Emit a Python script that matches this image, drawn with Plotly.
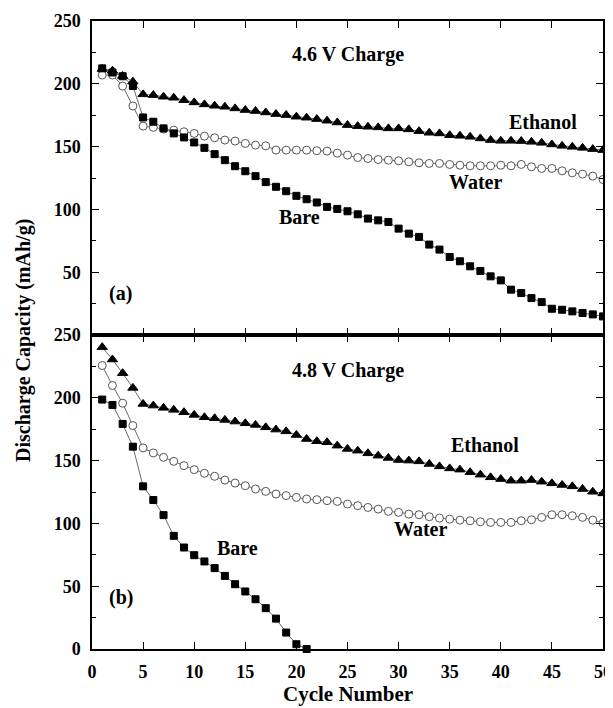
import plotly.graph_objects as go

cycles = list(range(1, 51))

# (a) 4.6 V charge
bare_46 = [212.3, 209, 206, 198.2, 173.2, 169.8, 164.5, 160.5, 157.3, 153.3,
           149.0, 144.0, 139.2, 134.4, 130.4, 126.5, 121.7, 118.0, 114.5, 110.8,
           108.1, 105.5, 102.0, 100.4, 98.5, 96.1, 92.7, 91.3, 90.0, 84.7,
           80.7, 78.1, 72.0, 68.0, 62.1, 58.7, 54.7, 51.0, 46.7, 43.5,
           36.1, 33.4, 29.4, 26.2, 20.9, 20.1, 18.8, 17.5, 16.4, 14.8]
ethanol_46 = [211.8, 210.4, 206.2, 201.7, 191.6, 191.0, 189.7, 188.9, 187.0, 185.2,
              183.6, 182.5, 181.7, 180.4, 179.1, 178.3, 177.2, 175.9, 175.1, 173.8,
              173.0, 171.9, 170.6, 169.2, 167.1, 166.3, 165.8, 165.3, 164.5, 164.5,
              163.7, 162.3, 161.0, 160.5, 159.1, 158.6, 157.8, 156.5, 155.2, 154.6,
              154.6, 154.4, 153.8, 153.0, 151.7, 150.6, 149.8, 149.0, 148.0, 147.2]
water_46 = [207.0, 207.0, 198.2, 182.3, 166.3, 165.3, 164.0, 163.1, 161.8, 160.5,
            158.3, 157.0, 155.2, 154.4, 152.5, 151.2, 150.6, 147.2, 147.2, 147.2,
            147.2, 146.7, 146.4, 144.8, 143.2, 141.3, 140.5, 139.7, 139.2, 138.7,
            137.9, 137.1, 136.6, 136.6, 135.8, 135.2, 134.7, 134.7, 134.7, 135.2,
            134.7, 135.8, 133.9, 132.6, 132.6, 130.7, 129.1, 128.1, 126.5, 123.8]

# (b) 4.8 V charge
cycles_bare_48 = list(range(1, 22))
bare_48 = [198.6, 194.3, 179.2, 161.1, 129.5, 118.6, 106.6, 90.1, 80.8, 74.7,
           69.7, 64.4, 58.2, 51.6, 45.8, 39.6, 32.5, 24.2, 13.1, 3.8, 0.0]
ethanol_48 = [240.3, 230.5, 219.6, 207.9, 195.1, 193.8, 192.0, 190.4, 188.5, 186.4,
              184.5, 183.7, 182.4, 181.1, 179.7, 178.4, 176.5, 174.7, 173.3, 170.4,
              167.2, 165.4, 164.6, 161.9, 159.3, 157.9, 155.8, 153.9, 152.1, 150.5,
              150.0, 149.4, 147.3, 145.4, 143.8, 142.8, 140.7, 138.8, 136.7, 135.3,
              134.0, 134.0, 134.5, 133.2, 131.9, 130.6, 129.5, 127.4, 125.2, 123.9]
water_48 = [225.7, 209.8, 195.7, 177.9, 160.1, 156.1, 152.6, 149.4, 146.0, 142.8,
            139.9, 137.5, 134.5, 132.1, 130.0, 127.4, 125.5, 123.4, 122.1, 120.7,
            119.4, 118.9, 118.1, 117.5, 115.4, 114.1, 112.7, 111.4, 109.6, 108.8,
            107.4, 106.9, 105.3, 104.2, 103.4, 102.6, 102.1, 101.3, 100.8, 100.8,
            100.8, 102.1, 102.9, 104.8, 106.9, 106.9, 106.1, 104.8, 102.6, 100.2]

x_ticks = [0, 5, 10, 15, 20, 25, 30, 35, 40, 45, 50]
y_ticks_top = [50, 100, 150, 200, 250]
y_ticks_bottom = [0, 50, 100, 150, 200, 250]

FONT = "Liberation Serif"
LINE = dict(color="#444", width=0.8)

# page has an 8px body margin, so the figure is sized/offset to compensate
W, H = 605, 708
ML, MR, MT, MB = 84, 10, 13, 67
PW, PH = W - ML - MR, H - MT - MB

fig = go.Figure()

def add_series(x, y, xa, ya, symbol, fill, edge, size):
    fig.add_trace(go.Scatter(
        x=x, y=y, xaxis=xa, yaxis=ya, mode="lines+markers",
        line=LINE,
        marker=dict(symbol=symbol, size=size, color=fill,
                    line=dict(color=edge, width=1)),
        showlegend=False, cliponaxis=False))

# top panel
add_series(cycles, water_46, "x", "y", "circle", "white", "#555", 8)
add_series(cycles, ethanol_46, "x", "y", "triangle-up", "black", "black", 9)
add_series(cycles, bare_46, "x", "y", "square", "black", "black", 7)
# bottom panel
add_series(cycles, water_48, "x2", "y2", "circle", "white", "#555", 8)
add_series(cycles, ethanol_48, "x2", "y2", "triangle-up", "black", "black", 9)
add_series(cycles_bare_48, bare_48, "x2", "y2", "square", "black", "black", 7)

axis_common = dict(
    showline=True, linecolor="black", linewidth=1.5, mirror="allticks",
    ticks="inside", ticklen=7, tickwidth=1.2, tickcolor="black",
    showgrid=False, zeroline=False, automargin=False,
    tickfont=dict(family=FONT, size=18, color="black", weight="bold"),
)

fig.update_layout(
    width=W, height=H,
    margin=dict(l=ML, r=MR, t=MT, b=MB),
    paper_bgcolor="white", plot_bgcolor="white",
    xaxis=dict(domain=[0, 1], anchor="y", range=[0, 50], tickvals=x_ticks,
               showticklabels=False, **axis_common),
    yaxis=dict(domain=[0.5, 1], anchor="x", range=[0, 250], tickvals=y_ticks_top,
               ticklabelstandoff=6,
               minor=dict(ticks="inside", ticklen=4, tickcolor="black", dtick=25, tick0=0),
               **axis_common),
    xaxis2=dict(domain=[0, 1], anchor="y2", range=[0, 50], tickvals=x_ticks,
                ticklabelstandoff=6, **axis_common),
    yaxis2=dict(domain=[0, 0.5], anchor="x2", range=[0, 250], tickvals=y_ticks_bottom,
                ticklabelstandoff=6,
                minor=dict(ticks="inside", ticklen=4, tickcolor="black", dtick=25, tick0=0),
                **axis_common),
)

ann_font = dict(family=FONT, size=20, color="black", weight="bold")
labels = [
    ("x", "y", 25, 223, "4.6 V Charge"),
    ("x", "y", 44.1, 169.8, "Ethanol"),
    ("x", "y", 37.5, 121.9, "Water"),
    ("x", "y", 20.3, 94, "Bare"),
    ("x", "y", 2.8, 33, "(a)"),
    ("x2", "y2", 25, 221.7, "4.8 V Charge"),
    ("x2", "y2", 38.5, 162.7, "Ethanol"),
    ("x2", "y2", 32.1, 95.4, "Water"),
    ("x2", "y2", 14.2, 80.8, "Bare"),
    ("x2", "y2", 2.8, 40.9, "(b)"),
]
for xr, yr, xv, yv, t in labels:
    fig.add_annotation(x=xv, y=yv, xref=xr, yref=yr, text=t, showarrow=False,
                       font=ann_font, xanchor="center", yanchor="middle")

title_font = dict(family=FONT, size=21, color="black", weight="bold")
bottom_px = H - MB
# y-axis title (page x~23, y~341 -> figure coords minus 8)
fig.add_annotation(x=(15 - ML) / PW, y=(bottom_px - 333) / PH, xref="paper", yref="paper",
                   xanchor="center", yanchor="middle",
                   text="Discharge Capacity (mAh/g)", textangle=-90,
                   showarrow=False, font=dict(family=FONT, size=20, color="black", weight="bold"))
# x-axis title (page y~695)
fig.add_annotation(x=0.5, y=-(686 - bottom_px) / PH, xref="paper", yref="paper",
                   xanchor="center", yanchor="middle", text="Cycle Number",
                   showarrow=False, font=title_font)

fig.write_html("out.html")
